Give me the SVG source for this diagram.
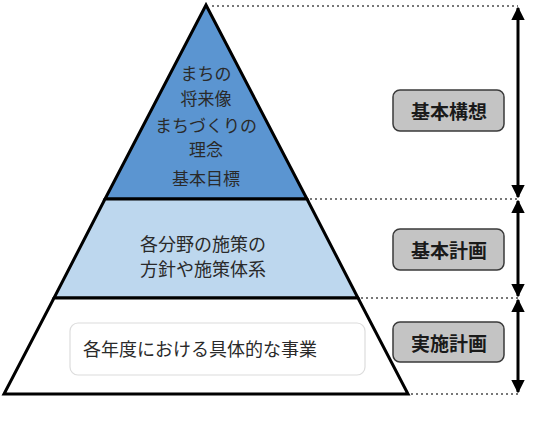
<svg xmlns="http://www.w3.org/2000/svg" width="541" height="425" viewBox="0 0 541 425">
<defs>
<style>
.tier{stroke:#000;stroke-width:3;stroke-linejoin:miter}
.t{font-family:"Noto Sans CJK JP","Noto Sans CJK SC",sans-serif;font-size:17px;fill:#2a2a2a;text-anchor:middle;dominant-baseline:central}
.t2{font-size:18px}
.lb{font-family:"Noto Sans CJK JP","Noto Sans CJK SC",sans-serif;font-size:19px;font-weight:bold;fill:#1a1a1a;text-anchor:middle;dominant-baseline:central}
.box{fill:#c4c4c4;stroke:#3a3a3a;stroke-width:1.5}
.dot{stroke:#777;stroke-width:2;stroke-dasharray:2 3;fill:none}
.arr{stroke:#000;stroke-width:3;fill:none;marker-start:url(#ah);marker-end:url(#ah)}
</style>
<marker id="ah" viewBox="0 0 10 10" refX="9" refY="5" markerWidth="4.5" markerHeight="5" orient="auto-start-reverse" markerUnits="strokeWidth">
<path d="M0,0 L10,5 L0,10 z" fill="#000"/>
</marker>
</defs>
<g id="guides">
<line class="dot" x1="212" y1="6" x2="518" y2="6"/>
<line class="dot" x1="310" y1="199" x2="518" y2="199"/>
<line class="dot" x1="361" y1="298" x2="518" y2="298"/>
<line class="dot" x1="411" y1="394" x2="518" y2="394"/>
</g>
<g id="tier-top">
<polygon class="tier" points="206,5 307,199 105,199" fill="#5b95d1"/>
<text class="t" x="206" y="72">まちの</text>
<text class="t" x="206" y="97">将来像</text>
<text class="t" x="206" y="124">まちづくりの</text>
<text class="t" x="206" y="148">理念</text>
<text class="t" x="206" y="177">基本目標</text>
</g>
<g id="tier-middle">
<polygon class="tier" points="105,199 307,199 358,298 54,298" fill="#bdd7ee"/>
<text class="t t2" x="203" y="243">各分野の施策の</text>
<text class="t t2" x="203" y="268">方針や施策体系</text>
</g>
<g id="tier-bottom">
<polygon class="tier" points="54,298 358,298 408,394 4,394" fill="#fff"/>
<rect x="70" y="323" width="295" height="52" rx="8" fill="#fff" stroke="#dcdcdc" stroke-width="1.2"/>
<text class="t t2" x="83" y="348" style="text-anchor:start">各年度における具体的な事業</text>
</g>
<g id="label-kihonkoso">
<rect class="box" x="393" y="90" width="111" height="41" rx="7"/>
<text class="lb" x="449" y="110">基本構想</text>
</g>
<g id="label-kihonkeikaku">
<rect class="box" x="393" y="229" width="111" height="41" rx="7"/>
<text class="lb" x="449" y="249">基本計画</text>
</g>
<g id="label-jisshikeikaku">
<rect class="box" x="393" y="322" width="111" height="40" rx="7"/>
<text class="lb" x="449" y="342">実施計画</text>
</g>
<g id="connectors">
<line class="arr" x1="518" y1="8" x2="518" y2="197"/>
<line class="arr" x1="518" y1="201" x2="518" y2="296"/>
<line class="arr" x1="518" y1="300" x2="518" y2="392"/>
</g>
</svg>
